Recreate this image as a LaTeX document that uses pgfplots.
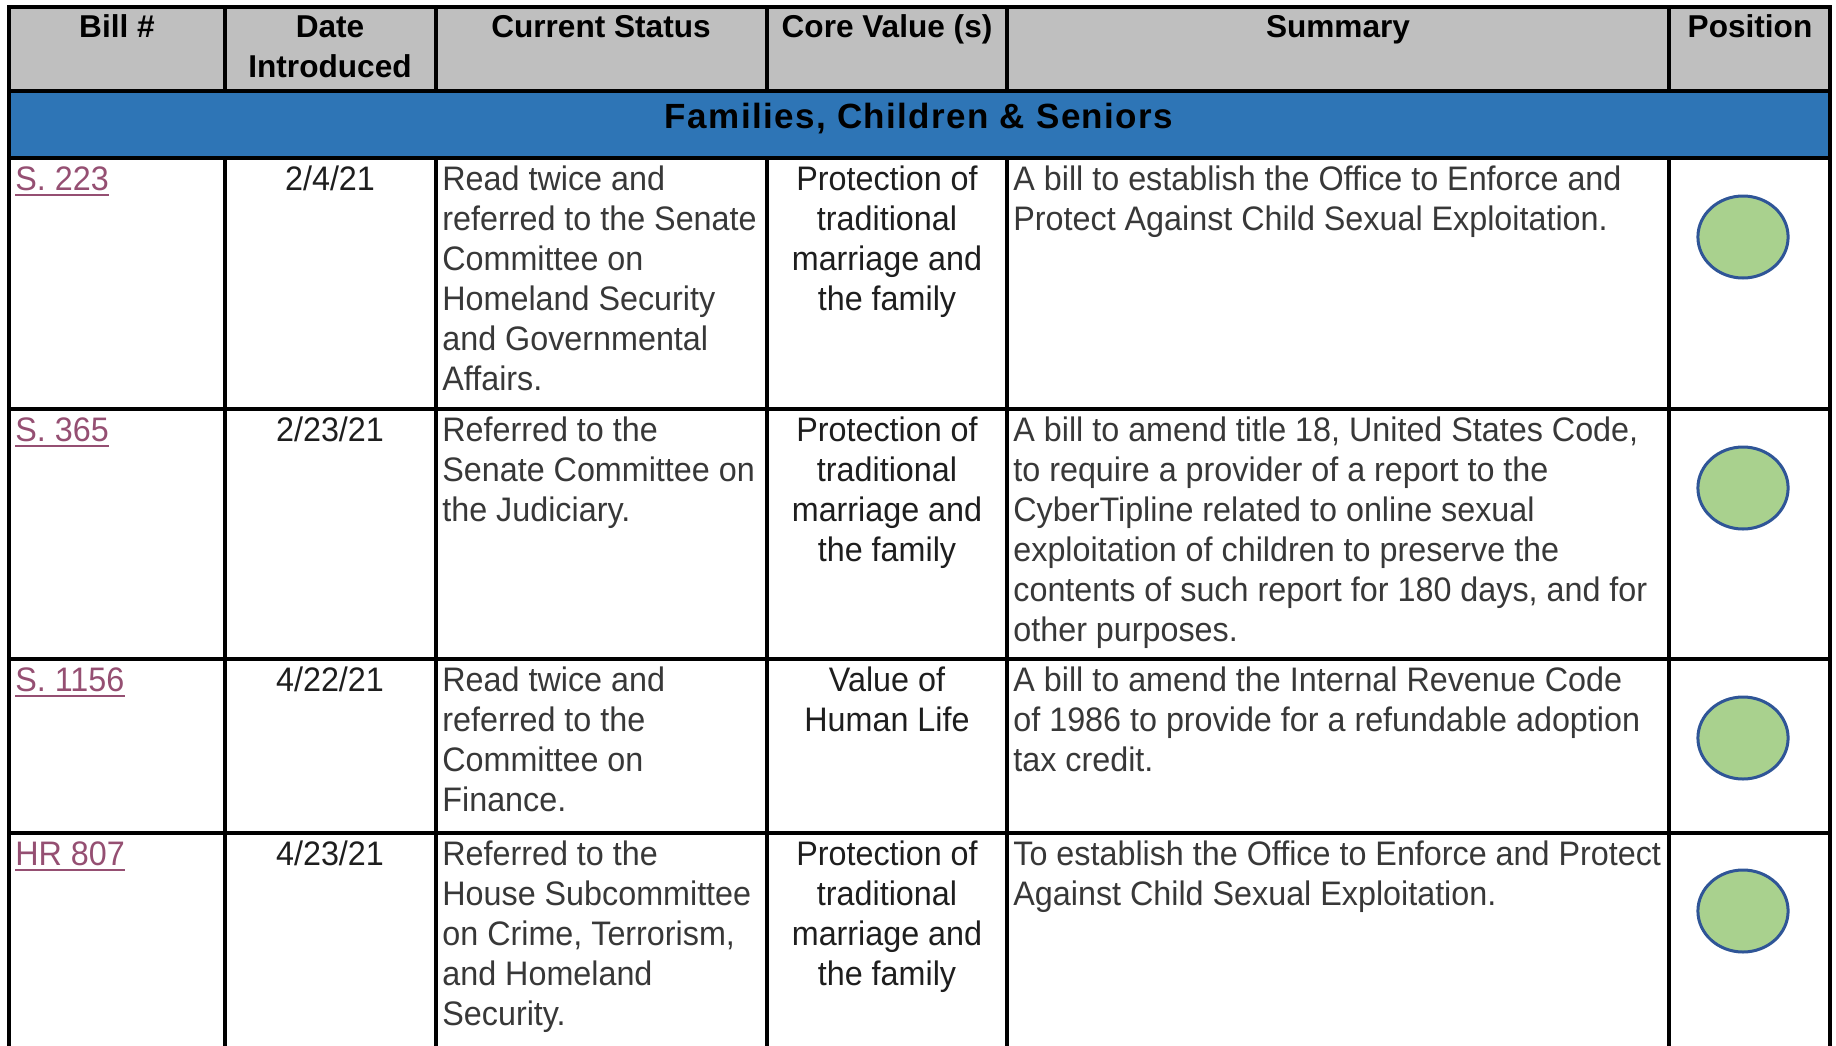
\documentclass[border=0pt]{standalone}
\usepackage{pgfplots}
\pgfplotsset{compat=1.18}
\usepackage{fontspec}
\setmainfont{Liberation Sans}[FakeStretch=0.95]
\newfontfamily\hdfont{Liberation Sans}
\newfontfamily\bandfont{Liberation Sans}[LetterSpace=4]
\definecolor{hdgray}{HTML}{BFBFBF}
\definecolor{band}{HTML}{2E75B6}
\definecolor{link}{HTML}{954F72}
\definecolor{txt}{HTML}{383838}
\definecolor{txtd}{HTML}{1E1E1E}
\definecolor{posgreen}{HTML}{A9D18E}
\definecolor{posblue}{HTML}{2F5597}
% left-aligned line: x, baseline y, text
\newcommand\TL[3]{\node[anchor=base west,inner sep=0pt,text=txt] at (axis cs:#1,#2) {#3};}
% centred line
\newcommand\TC[3]{\node[anchor=base,inner sep=0pt,text=txtd] at (axis cs:#1,#2) {#3};}
% header line
\newcommand\HC[3]{\node[anchor=base,inner sep=0pt,text=black,font=\hdfont\bfseries\fontsize{15.8pt}{20pt}\selectfont] at (axis cs:#1,#2) {#3};}
% bill link, underlined
\newcommand\BL[2]{\node[anchor=base west,inner sep=0pt,text=link] (lk) at (axis cs:15,#1) {#2};
  \draw[link, line width=1.2pt] ([yshift=-2.6pt]lk.base west) -- ([yshift=-2.6pt]lk.base east);}
\begin{document}
\fontsize{17pt}{20pt}\selectfont
\begin{tikzpicture}
\begin{axis}[
  scale only axis, width=918pt, height=522.5pt,
  xmin=0, xmax=1836, ymin=0, ymax=1045,
  y dir=reverse, hide axis, clip=false]
\coordinate (BL) at (axis cs:0,1045);
\coordinate (TR) at (axis cs:1836,0);
% fills
\fill[white] (axis cs:0,0) rectangle (axis cs:1836,1045);
\fill[hdgray] (axis cs:9,7) rectangle (axis cs:1830,91);
\fill[band] (axis cs:9,91) rectangle (axis cs:1830,158);
% grid
\begin{scope}[line width=1.75pt, black]
\draw (axis cs:9,1050) -- (axis cs:9,7) -- (axis cs:1830,7) -- (axis cs:1830,1050);
\draw (axis cs:9,91) -- (axis cs:1830,91);
\draw (axis cs:9,158) -- (axis cs:1830,158);
\draw (axis cs:9,409) -- (axis cs:1830,409);
\draw (axis cs:9,659) -- (axis cs:1830,659);
\draw (axis cs:9,833) -- (axis cs:1830,833);
\draw (axis cs:225,7) -- (axis cs:225,91);
\draw (axis cs:436,7) -- (axis cs:436,91);
\draw (axis cs:767,7) -- (axis cs:767,91);
\draw (axis cs:1007,7) -- (axis cs:1007,91);
\draw (axis cs:1669,7) -- (axis cs:1669,91);
\draw (axis cs:225,158) -- (axis cs:225,1050);
\draw (axis cs:436,158) -- (axis cs:436,1050);
\draw (axis cs:767,158) -- (axis cs:767,1050);
\draw (axis cs:1007,158) -- (axis cs:1007,1050);
\draw (axis cs:1669,158) -- (axis cs:1669,1050);
\end{scope}
% header
\HC{117}{37}{Bill \#}
\HC{330}{37}{Date}
\HC{330}{77}{Introduced}
\HC{601}{37}{Current Status}
\HC{887}{37}{Core Value (s)}
\HC{1338}{37}{Summary}
\HC{1750}{37}{Position}
% band
\node[anchor=base,inner sep=0pt,font=\bandfont\bfseries\fontsize{17.5pt}{20pt}\selectfont] at (axis cs:919,128) {Families, Children \& Seniors};
% row 1
\BL{190}{S. 223}
\TC{330}{190}{2/4/21}
\TL{442}{190}{Read twice and}
\TL{442}{230}{referred to the Senate}
\TL{442}{270}{Committee on}
\TL{442}{310}{Homeland Security}
\TL{442}{350}{and Governmental}
\TL{442}{390}{Affairs.}
\TC{887}{190}{Protection of}
\TC{887}{230}{traditional}
\TC{887}{270}{marriage and}
\TC{887}{310}{the family}
\TL{1013}{190}{A bill to establish the Office to Enforce and}
\TL{1013}{230}{Protect Against Child Sexual Exploitation.}
% row 2
\BL{441}{S. 365}
\TC{330}{441}{2/23/21}
\TL{442}{441}{Referred to the}
\TL{442}{481}{Senate Committee on}
\TL{442}{521}{the Judiciary.}
\TC{887}{441}{Protection of}
\TC{887}{481}{traditional}
\TC{887}{521}{marriage and}
\TC{887}{561}{the family}
\TL{1013}{441}{A bill to amend title 18, United States Code,}
\TL{1013}{481}{to require a provider of a report to the}
\TL{1013}{521}{CyberTipline related to online sexual}
\TL{1013}{561}{exploitation of children to preserve the}
\TL{1013}{601}{contents of such report for 180 days, and for}
\TL{1013}{641}{other purposes.}
% row 3
\BL{691}{S. 1156}
\TC{330}{691}{4/22/21}
\TL{442}{691}{Read twice and}
\TL{442}{731}{referred to the}
\TL{442}{771}{Committee on}
\TL{442}{811}{Finance.}
\TC{887}{691}{Value of}
\TC{887}{731}{Human Life}
\TL{1013}{691}{A bill to amend the Internal Revenue Code}
\TL{1013}{731}{of 1986 to provide for a refundable adoption}
\TL{1013}{771}{tax credit.}
% row 4
\BL{865}{HR 807}
\TC{330}{865}{4/23/21}
\TL{442}{865}{Referred to the}
\TL{442}{905}{House Subcommittee}
\TL{442}{945}{on Crime, Terrorism,}
\TL{442}{985}{and Homeland}
\TL{442}{1025}{Security.}
\TC{887}{865}{Protection of}
\TC{887}{905}{traditional}
\TC{887}{945}{marriage and}
\TC{887}{985}{the family}
\TL{1013}{865}{To establish the Office to Enforce and Protect}
\TL{1013}{905}{Against Child Sexual Exploitation.}
% position markers
\addplot[only marks, mark=*, mark size=20.5pt,
  mark options={xscale=1.1, fill=posgreen, draw=posblue, line width=1.5pt}]
  coordinates {(1743,237) (1743,488) (1743,738) (1743,911)};
\end{axis}
\pgfresetboundingbox
\path[use as bounding box] (BL) rectangle (TR);
\end{tikzpicture}
\end{document}
